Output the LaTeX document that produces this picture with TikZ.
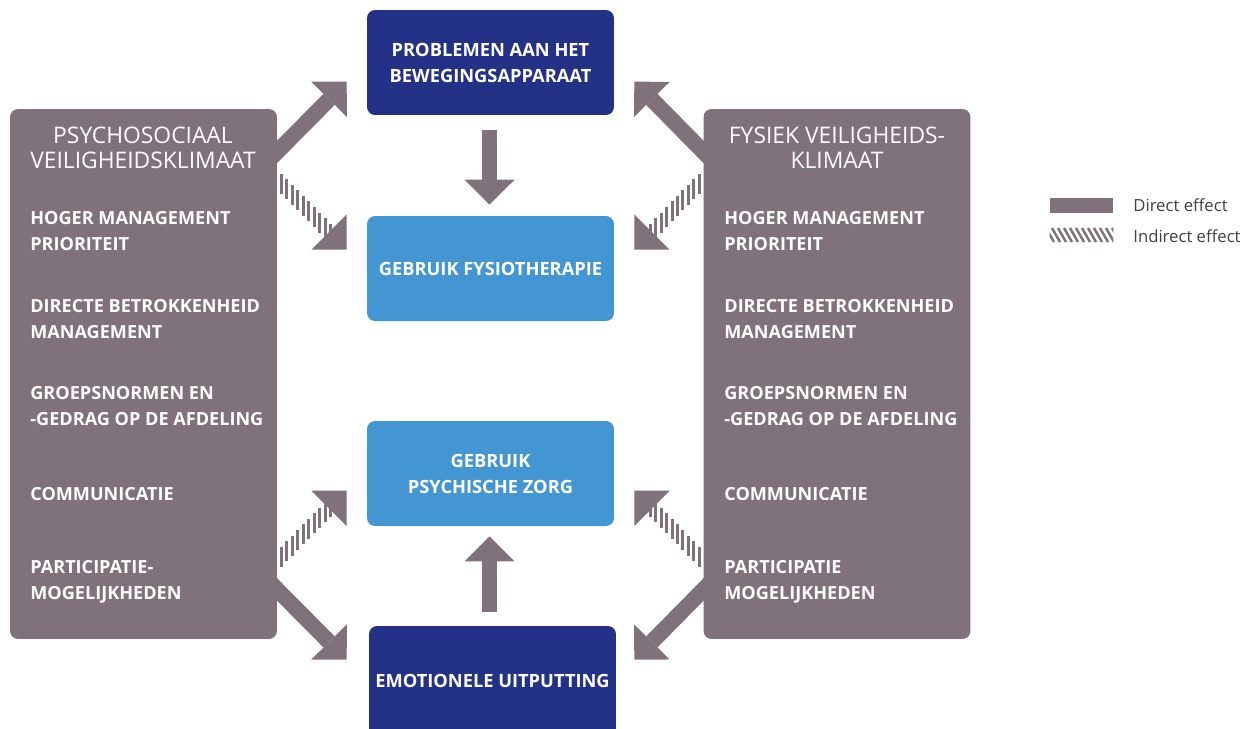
\documentclass[tikz,border=0pt]{standalone}
\usepackage{fontspec}
\setmainfont{Open Sans}
\usepackage{tikz}
\usetikzlibrary{positioning, arrows.meta, calc}

\definecolor{mauve}{HTML}{7F727A}
\definecolor{darkblue}{HTML}{233187}
\definecolor{lightblue}{HTML}{4496D3}

\begin{document}
\begin{tikzpicture}[x=0.02cm, y=-0.02cm]
    \tikzset{
        climate/.style={
                fill=mauve, rounded corners=0.16cm, minimum width=5.34cm, minimum height=10.6cm, inner sep=0
            },
        outcome/.style={
                rounded corners=0.16cm, minimum width=4.94cm, minimum height=2.1cm, inner sep=0,
                text=white, align=center, font=\fontsize{10.4}{14.8}\selectfont\bfseries
            },
        climate title/.style={
                text=white, align=center, font=\fontsize{13}{14.2}\selectfont
            },
        item/.style={
                text=white, align=left, anchor=west, inner sep=0, font=\fontsize{10.3}{14.8}\selectfont\bfseries
            },
        direct/.style={
                draw=mauve, line width=9pt, -{Triangle[width=28.5pt, length=14.2pt, line width=0pt]}
            },
        tiponly/.style={
                draw=mauve, line width=0.1pt, -{Triangle[width=28.5pt, length=14.2pt, line width=0pt]}
            },
        hatch/.style={
                draw=mauve, line width=1.7pt
            },
        legend text/.style={
                anchor=west, inner sep=0, text=black!75, font=\fontsize{9.5}{12}\selectfont
            }
    }

    \clip (0,0) rectangle (1243,728);
    \useasboundingbox (0,0) rectangle (1243,728);

    % climate boxes
    \node[climate] (psy) at (143.5, 374) {};
    \node[climate] (fys) at (837, 374) {};

    \node[climate title] (psytitle) at (143, 148) {PSYCHOSOCIAAL\\VEILIGHEIDSKLIMAAT};
    \node[item] (psy1) at (30, 231) {HOGER MANAGEMENT\\PRIORITEIT};
    \node[item] (psy2) at (30, 319) {DIRECTE BETROKKENHEID\\MANAGEMENT};
    \node[item] (psy3) at (30, 406) {GROEPSNORMEN EN\\-GEDRAG OP DE AFDELING};
    \node[item] (psy4) at (30, 494) {COMMUNICATIE};
    \node[item] (psy5) at (30, 582) {PARTICIPATIE-\\MOGELIJKHEDEN};

    \node[climate title] (fystitle) at (837, 148) {FYSIEK VEILIGHEIDS-\\KLIMAAT};
    \node[item] (fys1) at (724, 231) {HOGER MANAGEMENT\\PRIORITEIT};
    \node[item] (fys2) at (724, 319) {DIRECTE BETROKKENHEID\\MANAGEMENT};
    \node[item] (fys3) at (724, 406) {GROEPSNORMEN EN\\-GEDRAG OP DE AFDELING};
    \node[item] (fys4) at (724, 494) {COMMUNICATIE};
    \node[item] (fys5) at (724, 582) {PARTICIPATIE\\MOGELIJKHEDEN};

    % outcome boxes
    \node[outcome, fill=darkblue] (bew) at (490.5, 62.5) {PROBLEMEN AAN HET\\BEWEGINGSAPPARAAT};
    \node[outcome, fill=lightblue] (fysio) at (490.5, 268.5) {GEBRUIK FYSIOTHERAPIE};
    \node[outcome, fill=lightblue] (psych) at (490.5, 473.5) {GEBRUIK\\PSYCHISCHE ZORG};
    \node[outcome, fill=darkblue, minimum height=2.2cm] (emo) at (492.5, 681) {EMOTIONELE UITPUTTING};

    % arrow tips
    \coordinate (td1) at ($(bew.north west)+(-20,72)$);
    \coordinate (td2) at ($(bew.north east)+(20,72)$);
    \coordinate (ti1) at ($(fysio.north west)+(-20,34)$);
    \coordinate (ti2) at ($(fysio.north east)+(20,34)$);
    \coordinate (ti3) at ($(psych.north west)+(-20,70)$);
    \coordinate (ti4) at ($(psych.north east)+(20,70)$);
    \coordinate (td3) at ($(emo.north west)+(-22,34)$);
    \coordinate (td4) at ($(emo.north east)+(18,34)$);

    % direct effects
    \draw[direct] ($(psy.east |- td1)+(-10,80)$) -- (td1);
    \draw[direct] ($(fys.west |- td2)+(10,80)$) -- (td2);
    \draw[direct] ($(psy.east |- td3)+(-10,-80)$) -- (td3);
    \draw[direct] ($(fys.west |- td4)+(10,-80)$) -- (td4);
    \draw[direct] ($(bew.south)+(-1,15)$) -- ($(fysio.north)+(-1,-11)$);
    \draw[direct] ($(emo.north)+(-3,-14)$) -- ($(psych.south)+(-1,10)$);

    % indirect effects: striped shafts, then solid heads
    \coordinate (s1) at ($(psy.east |- ti1)+(4,-66)$);
    \coordinate (b1) at ($(ti1)+(-16,-16)$);
    \coordinate (s2) at ($(fys.west |- ti2)+(-4,-66)$);
    \coordinate (b2) at ($(ti2)+(16,-16)$);
    \coordinate (s3) at ($(psy.east |- ti3)+(4,66)$);
    \coordinate (b3) at ($(ti3)+(-16,16)$);
    \coordinate (s4) at ($(fys.west |- ti4)+(-4,66)$);
    \coordinate (b4) at ($(ti4)+(16,16)$);
    \foreach \s/\b in {s1/b1, s2/b2, s3/b3, s4/b4} {
            \foreach \k in {0,...,9}
            \draw[hatch] ($(\s)!\k/9!(\b)$) +(0,-10) -- +(0,10);
        }
    \draw[tiponly] ($(ti1)+(-18,-18)$) -- (ti1);
    \draw[tiponly] ($(ti2)+(18,-18)$) -- (ti2);
    \draw[tiponly] ($(ti3)+(-18,18)$) -- (ti3);
    \draw[tiponly] ($(ti4)+(18,18)$) -- (ti4);

    % legend
    \node[fill=mauve, minimum width=1.26cm, minimum height=0.3cm, inner sep=0] (ldirect) at (1081.5, 205.5) {};
    \node[minimum width=1.26cm, minimum height=0.28cm, inner sep=0] (lindirect) at (1081.5, 235) {};
    \begin{scope}
        \clip (lindirect.north west) rectangle (lindirect.south east);
        \foreach \x in {1040,1046,...,1116}
        \draw[hatch, line width=1.4pt] (\x, 228) -- ++(8, 14);
    \end{scope}
    \node[legend text] (ldtext) at (1133, 205) {Direct effect};
    \node[legend text] (litext) at (1133, 236) {Indirect effect};
\end{tikzpicture}
\end{document}
